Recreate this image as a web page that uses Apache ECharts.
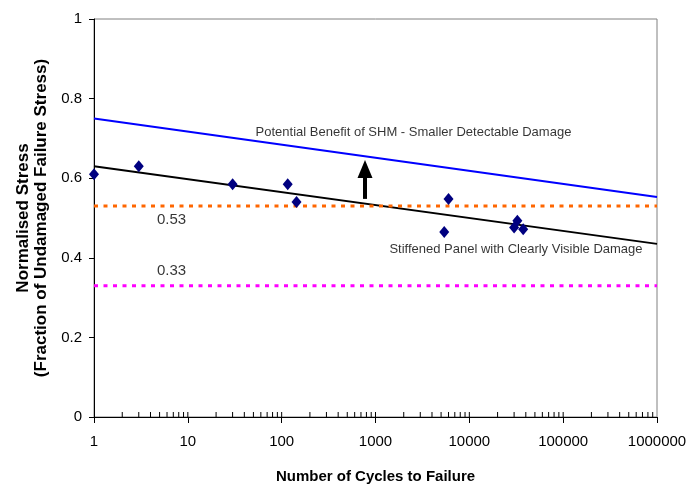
<!DOCTYPE html>
<html>
<head>
<meta charset="utf-8">
<script src="https://cdn.jsdelivr.net/npm/echarts@6/dist/echarts.min.js"></script>
<style>
  html, body { margin: 0; padding: 0; background: #fff; }
  #chart { width: 700px; height: 486px; }
</style>
</head>
<body>
<div id="chart"></div>
<script>
// test results: cycles to failure vs normalised stress
var testCycles = [1, 3, 30, 116, 144, 5400, 6000, 30000, 32500, 37500];
var testStress = [0.61, 0.63, 0.585, 0.585, 0.54, 0.465, 0.548, 0.476, 0.493, 0.472];

// fitted lines (end points)
var lineCycles = [1, 1000000];
var shmStress = [0.75, 0.553];
var panelStress = [0.63, 0.435];

// horizontal limits
var limitOrange = 0.53;
var limitMagenta = 0.33;

// text annotations [cycles, stress, text]
var notes = [
  [2540, 0.716, 'Potential Benefit of SHM - Smaller Detectable Damage'],
  [31400, 0.42, 'Stiffened Panel with Clearly Visible Damage']
];
var limitNotes = [
  [6.7, 0.495, '0.53'],
  [6.7, 0.367, '0.33']
];

// arrow from the panel line up to the SHM line
var arrowCycles = 773;
var arrowFrom = 0.548;
var arrowTo = 0.623;

// log minor ticks (2..9 per decade) plus inner half of the decade ticks
var minorTicks = [];
for (var d = 1; d < 1000000; d *= 10) {
  for (var m = 2; m <= 9; m++) minorTicks.push([d * m, 0]);
  if (d > 1) minorTicks.push([d, 0]);
}

var chart = echarts.init(document.getElementById('chart'));
var font = 'Liberation Sans, Arial, sans-serif';

chart.setOption({
  animation: false,
  grid: {
    left: 94, right: 43, top: 19, bottom: 69,
    outerBoundsMode: 'none',
    show: true, borderColor: '#808080', borderWidth: 1
  },
  xAxis: {
    type: 'log', logBase: 10, min: 1, max: 1000000,
    name: 'Number of Cycles to Failure',
    nameLocation: 'middle', nameGap: 52,
    nameTextStyle: { fontFamily: font, fontSize: 15, fontWeight: 'bold', color: '#000' },
    axisLine: { lineStyle: { color: '#000', width: 1 } },
    axisTick: { show: true, length: 6, lineStyle: { color: '#000' } },
    axisLabel: {
      fontFamily: font, fontSize: 15, color: '#000', margin: 17,
      formatter: function (v) { return String(Math.round(v)); }
    },
    splitLine: { show: false }
  },
  yAxis: {
    type: 'value', min: 0, max: 1, interval: 0.2,
    name: 'Normalised Stress\n(Fraction of Undamaged Failure Stress)',
    nameLocation: 'middle', nameGap: 41, nameRotate: 90,
    nameTextStyle: { fontFamily: font, fontSize: 17, fontWeight: 'bold', color: '#000', lineHeight: 18 },
    axisLine: { show: true, lineStyle: { color: '#000', width: 1 } },
    axisTick: { show: true, length: 5, lineStyle: { color: '#000' } },
    axisLabel: { fontFamily: font, fontSize: 15, color: '#000', margin: 12 },
    splitLine: { show: false }
  },
  series: [
    {
      type: 'custom',
      data: minorTicks,
      silent: true,
      z: 5,
      renderItem: function (params, api) {
        var p = api.coord([api.value(0), api.value(1)]);
        return { type: 'line', shape: { x1: p[0], y1: p[1], x2: p[0], y2: p[1] - 5 },
                 style: { stroke: '#000', lineWidth: 1 } };
      }
    },
    {
      type: 'line', data: lineCycles.map(function (c, i) { return [c, shmStress[i]]; }),
      symbol: 'none', lineStyle: { color: '#0000ff', width: 2 }
    },
    {
      type: 'line', data: lineCycles.map(function (c, i) { return [c, panelStress[i]]; }),
      symbol: 'none', lineStyle: { color: '#000', width: 2 }
    },
    {
      type: 'line', data: lineCycles.map(function (c) { return [c, limitOrange]; }),
      symbol: 'none', lineStyle: { color: '#ff6600', width: 3, type: [4, 5.5] }
    },
    {
      type: 'line', data: lineCycles.map(function (c) { return [c, limitMagenta]; }),
      symbol: 'none', lineStyle: { color: '#ff00ff', width: 3, type: [4, 5.5] }
    },
    {
      type: 'scatter',
      data: testCycles.map(function (c, i) { return [c, testStress[i]]; }),
      symbol: 'diamond', symbolSize: [10, 12],
      itemStyle: { color: '#000080', opacity: 1 }, z: 4,
      markLine: {
        silent: true,
        symbol: ['none', 'triangle'],
        symbolSize: [15, 18],
        label: { show: false },
        lineStyle: { color: '#000', width: 4, type: 'solid' },
        data: [[{ coord: [arrowCycles, arrowFrom] }, { coord: [arrowCycles, arrowTo] }]]
      }
    },
    {
      type: 'scatter',
      data: notes.map(function (n) { return { value: [n[0], n[1]], text: n[2] }; }),
      symbolSize: 0, silent: true,
      label: {
        show: true, position: 'inside',
        fontFamily: font, fontSize: 13, color: '#000',
        formatter: function (p) { return p.data.text; }
      }
    },
    {
      type: 'scatter',
      data: limitNotes.map(function (n) { return { value: [n[0], n[1]], text: n[2] }; }),
      symbolSize: 0, silent: true,
      label: {
        show: true, position: 'inside',
        fontFamily: font, fontSize: 15, color: '#000',
        formatter: function (p) { return p.data.text; }
      }
    }
  ]
});
</script>
</body>
</html>
